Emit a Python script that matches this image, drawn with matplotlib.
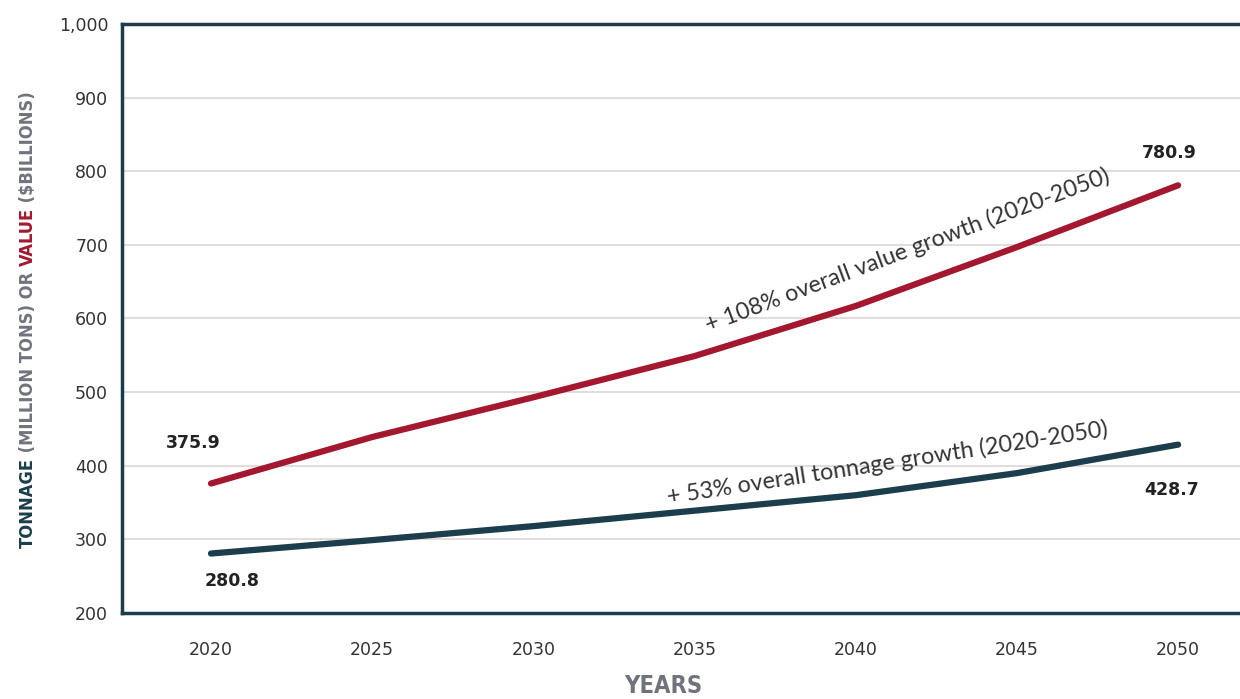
import matplotlib
matplotlib.use("Agg")
import matplotlib.pyplot as plt

years = [2020, 2025, 2030, 2035, 2040, 2045, 2050]
value = [375.9, 439, 493, 549, 617, 697, 780.9]
tonnage = [280.8, 299, 318, 339, 360, 390, 428.7]
yticks = [200, 300, 400, 500, 600, 700, 800, 900, 1000]

RED = "#a3182f"
TEAL = "#1b3d4c"
GRAY = "#70737b"
GRID = "#ddd5d5"

plt.rcParams['font.family'] = ['DejaVu Sans']

fig = plt.figure(figsize=(12.4, 6.99), dpi=100)
ax = fig.add_axes([0.0984, 0.123, 0.9016, 0.8427])

ax.plot(years, value, color=RED, lw=4.5, solid_capstyle='round')
ax.plot(years, tonnage, color=TEAL, lw=4.5, solid_capstyle='round')

ax.set_xlim(2017.24, 2051.92)
ax.set_ylim(200, 1000)
ax.set_xticks(years)
ax.set_yticks(yticks)
ax.set_yticklabels([f"{v:,}" for v in yticks])
ax.tick_params(axis='both', length=0, labelsize=12.5, colors="#333333")
ax.tick_params(axis='x', pad=20)
ax.tick_params(axis='y', pad=10)
ax.grid(axis='y', color=GRID, lw=1.2)
ax.set_axisbelow(True)
for s in ['left', 'bottom', 'top']:
    ax.spines[s].set_color(TEAL)
    ax.spines[s].set_linewidth(2.5)
ax.spines['right'].set_visible(False)

# point labels
lab = dict(fontsize=12.5, fontweight='bold', color="#222222", ha='center', va='center')
ax.annotate(f"{value[0]}", (years[0], value[0]), xytext=(-13, 29), textcoords='offset points', **lab)
ax.annotate(f"{tonnage[0]}", (years[0], tonnage[0]), xytext=(15, -20), textcoords='offset points', **lab)
ax.annotate(f"{value[-1]}", (years[-1], value[-1]), xytext=(-6, 23), textcoords='offset points', **lab)
ax.annotate(f"{tonnage[-1]}", (years[-1], tonnage[-1]), xytext=(-5, -33), textcoords='offset points', **lab)

# growth notes
note = dict(ha='center', va='center', rotation_mode='anchor', fontsize=16.8,
            color="#333333", family=['Lato', 'DejaVu Sans'])
ax.text(2041.6, 692, "+ 108% overall value growth (2020-2050)", rotation=20.5, **note)
ax.text(2041.0, 404, "+ 53% overall tonnage growth (2020-2050)", rotation=8.8, **note)

# x label
fig.text(663 / 1240, 1 - 686 / 699, "YEARS", fontsize=17, fontweight='bold',
         fontstretch='condensed', color=GRAY, ha='center', va='center')

# y label, multicolor, stacked bottom to top, sized to fit its span
parts = [("TONNAGE", TEAL), (" (MILLION TONS) OR ", GRAY), ("VALUE", RED), (" ($BILLIONS)", GRAY)]
fig.canvas.draw()
renderer = fig.canvas.get_renderer()
span = (548 - 95) / 699
size = 19
texts = []
for txt, col in parts:
    texts.append(fig.text(28 / 1240, 0, txt, rotation=90, fontsize=size, fontweight='bold',
                          fontstretch='condensed', color=col, ha='center', va='bottom'))
total = sum(t.get_window_extent(renderer).height for t in texts) / fig.bbox.height
size = size * span / total
y0 = 1 - 548 / 699
for t in texts:
    t.set_fontsize(size)
    t.set_y(y0)
    y0 += t.get_window_extent(renderer).height / fig.bbox.height

fig.savefig("out.png", dpi=100)
